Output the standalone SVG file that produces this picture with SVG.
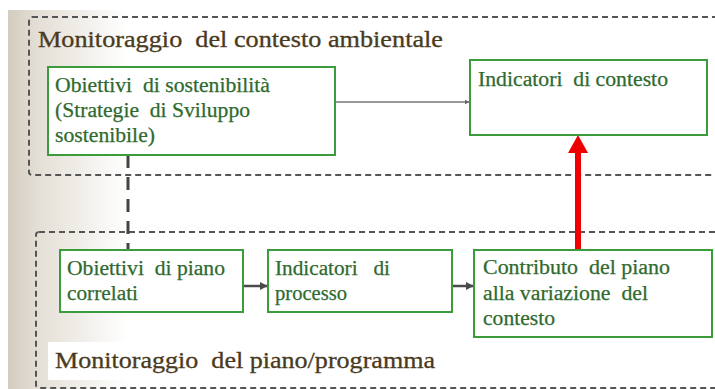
<svg xmlns="http://www.w3.org/2000/svg" width="715" height="389" viewBox="0 0 715 389">
  <defs>
    <linearGradient id="bg" x1="0" y1="0" x2="1" y2="0">
      <stop offset="0" stop-color="#d3ccbf"/>
      <stop offset="0.25" stop-color="#e4dfd6"/>
      <stop offset="1" stop-color="#ffffff"/>
    </linearGradient>
    <marker id="ahGray" viewBox="0 0 10 10" refX="9" refY="5" markerWidth="5" markerHeight="5" orient="auto" markerUnits="userSpaceOnUse">
      <path d="M0,0 L10,5 L0,10 z" fill="#666"/>
    </marker>
    <marker id="ahDark" viewBox="0 0 10 10" refX="9" refY="5" markerWidth="8" markerHeight="8" orient="auto" markerUnits="userSpaceOnUse">
      <path d="M0,0 L10,5 L0,10 z" fill="#4a4a4a"/>
    </marker>
  </defs>
  <style>
    text { white-space: pre; font-family: "Liberation Serif", "Tinos", "Noto Serif", "DejaVu Serif", "Nimbus Roman", "FreeSerif", "Times New Roman", Times, serif; }
    .frame { fill: none; stroke: #555; stroke-width: 2; stroke-dasharray: 6 4; }
    .box { fill: #ffffff; stroke: #3c9c3c; stroke-width: 2; }
    .lbl { font-size: 20px; fill: #2f6a2f; stroke: #2f6a2f; stroke-width: 0.25; }
    .title { font-size: 23px; fill: #4a3a20; stroke: #4a3a20; stroke-width: 0.3; }
  </style>

  <rect x="0" y="0" width="715" height="389" fill="#ffffff"/>
  <rect x="8" y="10" width="120" height="379" fill="url(#bg)"/>
  <rect x="128" y="10" width="587" height="379" fill="#ffffff"/>

  <g id="frame-contesto">
    <rect class="frame" x="29" y="17" width="700" height="158" rx="3"/>
    <text class="title" x="38" y="47" textLength="405" lengthAdjust="spacingAndGlyphs">Monitoraggio  del contesto ambientale</text>
  </g>

  <g id="frame-piano">
    <rect class="frame" x="36" y="232" width="700" height="156" rx="3"/>
    <rect x="48" y="342" width="400" height="38" fill="#ffffff"/>
    <text class="title" x="55" y="368" textLength="380" lengthAdjust="spacingAndGlyphs">Monitoraggio  del piano/programma</text>
  </g>

  <g id="connectors">
    <line x1="128" y1="155" x2="128" y2="250" stroke="#444" stroke-width="3" stroke-dasharray="13 9"/>
    <line x1="335" y1="102" x2="469" y2="102" stroke="#777" stroke-width="1.5" marker-end="url(#ahGray)"/>
    <line x1="243" y1="286" x2="267" y2="286" stroke="#4a4a4a" stroke-width="2.5" marker-end="url(#ahDark)"/>
    <line x1="452" y1="286" x2="473" y2="286" stroke="#4a4a4a" stroke-width="2.5" marker-end="url(#ahDark)"/>
    <line x1="578" y1="250" x2="578" y2="150" stroke="#ee0000" stroke-width="6"/>
    <path d="M578,135 L588,153 L568,153 z" fill="#ee0000"/>
  </g>

  <g id="node-obiettivi-sostenibilita">
    <rect class="box" x="48" y="67" width="287" height="88"/>
    <text class="lbl" x="55" y="92" textLength="215" lengthAdjust="spacingAndGlyphs">Obiettivi  di sostenibilità</text>
    <text class="lbl" x="55" y="117" textLength="195" lengthAdjust="spacingAndGlyphs">(Strategie  di Sviluppo</text>
    <text class="lbl" x="55" y="142" textLength="100" lengthAdjust="spacingAndGlyphs">sostenibile)</text>
  </g>

  <g id="node-indicatori-contesto">
    <rect class="box" x="470" y="60" width="237" height="75"/>
    <text class="lbl" x="478" y="86" textLength="190" lengthAdjust="spacingAndGlyphs">Indicatori  di contesto</text>
  </g>

  <g id="node-obiettivi-piano">
    <rect class="box" x="60" y="250" width="183" height="62"/>
    <text class="lbl" x="67" y="275" textLength="158" lengthAdjust="spacingAndGlyphs">Obiettivi  di piano</text>
    <text class="lbl" x="67" y="300" textLength="71" lengthAdjust="spacingAndGlyphs">correlati</text>
  </g>

  <g id="node-indicatori-processo">
    <rect class="box" x="268" y="250" width="184" height="62"/>
    <text class="lbl" x="275" y="275" textLength="115" lengthAdjust="spacingAndGlyphs">Indicatori   di</text>
    <text class="lbl" x="275" y="300" textLength="72" lengthAdjust="spacingAndGlyphs">processo</text>
  </g>

  <g id="node-contributo">
    <rect class="box" x="474" y="250" width="238" height="87"/>
    <text class="lbl" x="483" y="274" textLength="187" lengthAdjust="spacingAndGlyphs">Contributo  del piano</text>
    <text class="lbl" x="483" y="300" textLength="165" lengthAdjust="spacingAndGlyphs">alla variazione  del</text>
    <text class="lbl" x="483" y="325" textLength="72" lengthAdjust="spacingAndGlyphs">contesto</text>
  </g>
</svg>
